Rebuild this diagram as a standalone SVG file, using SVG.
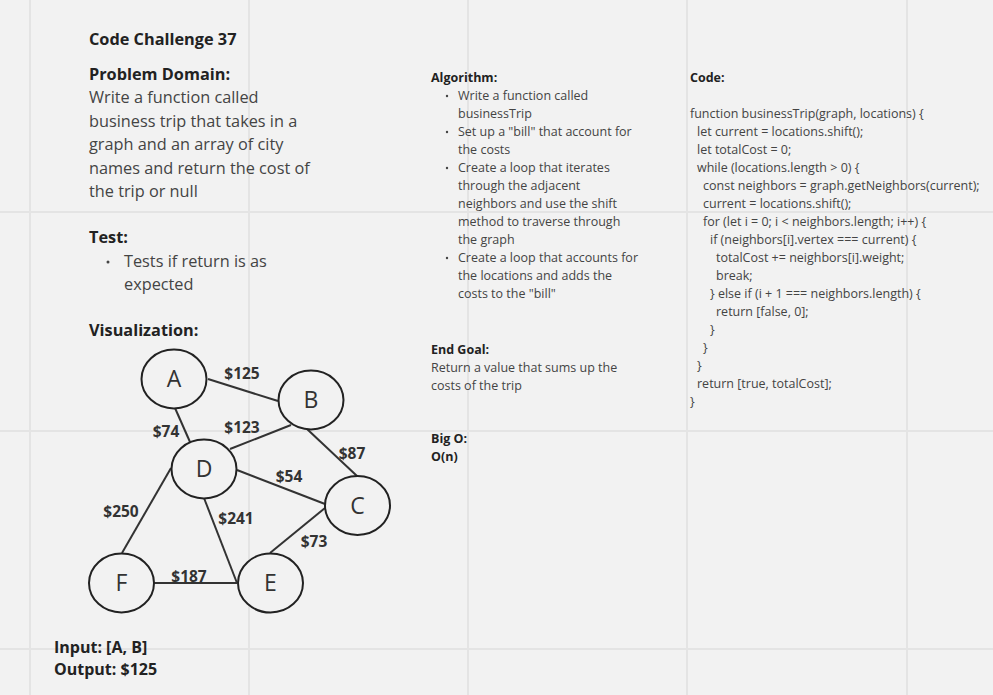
<svg xmlns="http://www.w3.org/2000/svg" width="993" height="695" viewBox="0 0 993 695">
<style>
.grid{stroke:#e4e4e4;stroke-width:2}
.h{font-family:"Open Sans","Noto Sans",sans-serif;font-weight:bold;fill:#222}
.b{font-family:"Open Sans","Noto Sans",sans-serif;fill:#444}
.s{font-family:"Open Sans","Noto Sans",sans-serif;fill:#444;font-size:12.5px}
.sh{font-family:"Open Sans","Noto Sans",sans-serif;fill:#222;font-size:12.5px;font-weight:bold}
.node ellipse{fill:#f2f2f2;stroke:#222;stroke-width:2}
.node text{font-family:"Open Sans","Noto Sans",sans-serif;font-size:23px;fill:#333;text-anchor:middle}
.edges line{stroke:#333;stroke-width:2}
.lbl{font-family:"Open Sans","Noto Sans",sans-serif;font-weight:bold;font-size:15.5px;fill:#333;text-anchor:middle}
</style>
<rect width="993" height="695" fill="#f2f2f2"/>
<g id="grid">
<line class="grid" x1="30" y1="0" x2="30" y2="695"/>
<line class="grid" x1="249" y1="0" x2="249" y2="695"/>
<line class="grid" x1="468" y1="0" x2="468" y2="695"/>
<line class="grid" x1="687" y1="0" x2="687" y2="695"/>
<line class="grid" x1="907" y1="0" x2="907" y2="695"/>
<line class="grid" x1="0" y1="212" x2="993" y2="212"/>
<line class="grid" x1="0" y1="431" x2="993" y2="431"/>
<line class="grid" x1="0" y1="649" x2="993" y2="649"/>
</g>
<g id="left-text">
<text class="h" x="89" y="45" font-size="16.3">Code Challenge 37</text>
<text class="h" x="89" y="80" font-size="16.3">Problem Domain:</text>
<text class="b" x="89" y="103" font-size="16.3">Write a function called</text>
<text class="b" x="89" y="126.5" font-size="16.3">business trip that takes in a</text>
<text class="b" x="89" y="150" font-size="16.3">graph and an array of city</text>
<text class="b" x="89" y="173.5" font-size="16.3">names and return the cost of</text>
<text class="b" x="89" y="197" font-size="16.3">the trip or null</text>
<text class="h" x="89" y="243" font-size="16.3">Test:</text>
<circle cx="108" cy="262" r="1.5" fill="#444"/>
<text class="b" x="124" y="267" font-size="16.3">Tests if return is as</text>
<text class="b" x="124" y="290" font-size="16.3">expected</text>
<text class="h" x="89" y="336" font-size="16.3">Visualization:</text>
<text class="h" x="54" y="653" font-size="16">Input: [A, B]</text>
<text class="h" x="54" y="675" font-size="16">Output: $125</text>
</g>
<g id="algorithm">
<text class="sh" x="431" y="82">Algorithm:</text>
<g fill="#444">
<circle cx="447" cy="96" r="1.2"/>
<circle cx="447" cy="132" r="1.2"/>
<circle cx="447" cy="168" r="1.2"/>
<circle cx="447" cy="258" r="1.2"/>
</g>
<text class="s" x="458" y="100">Write a function called</text>
<text class="s" x="458" y="118">businessTrip</text>
<text class="s" x="458" y="136">Set up a "bill" that account for</text>
<text class="s" x="458" y="154">the costs</text>
<text class="s" x="458" y="172">Create a loop that iterates</text>
<text class="s" x="458" y="190">through the adjacent</text>
<text class="s" x="458" y="208">neighbors and use the shift</text>
<text class="s" x="458" y="226">method to traverse through</text>
<text class="s" x="458" y="244">the graph</text>
<text class="s" x="458" y="262">Create a loop that accounts for</text>
<text class="s" x="458" y="280">the locations and adds the</text>
<text class="s" x="458" y="298">costs to the "bill"</text>
<text class="sh" x="431" y="354">End Goal:</text>
<text class="s" x="431" y="372">Return a value that sums up the</text>
<text class="s" x="431" y="390">costs of the trip</text>
<text class="sh" x="431" y="443">Big O:</text>
<text class="sh" x="431" y="461">O(n)</text>
</g>
<g id="code">
<text class="sh" x="690" y="82">Code:</text>
<text class="s" x="690" y="118">function businessTrip(graph, locations) {</text>
<text class="s" x="697" y="136">let current = locations.shift();</text>
<text class="s" x="697" y="154">let totalCost = 0;</text>
<text class="s" x="697" y="172">while (locations.length &gt; 0) {</text>
<text class="s" x="703" y="190">const neighbors = graph.getNeighbors(current);</text>
<text class="s" x="703" y="208">current = locations.shift();</text>
<text class="s" x="703" y="226">for (let i = 0; i &lt; neighbors.length; i++) {</text>
<text class="s" x="710" y="244">if (neighbors[i].vertex === current) {</text>
<text class="s" x="716" y="262">totalCost += neighbors[i].weight;</text>
<text class="s" x="716" y="280">break;</text>
<text class="s" x="710" y="298">} else if (i + 1 === neighbors.length) {</text>
<text class="s" x="716" y="316">return [false, 0];</text>
<text class="s" x="710" y="334">}</text>
<text class="s" x="703" y="352">}</text>
<text class="s" x="697" y="370">}</text>
<text class="s" x="697" y="388">return [true, totalCost];</text>
<text class="s" x="690" y="406">}</text>
</g>
<g id="connectors" class="edges">
<line x1="208" y1="379" x2="278" y2="401"/>
<line x1="175" y1="408" x2="190" y2="442"/>
<line x1="291" y1="425" x2="230" y2="449"/>
<line x1="307" y1="429" x2="357" y2="476"/>
<line x1="237" y1="470" x2="325" y2="504"/>
<line x1="171" y1="468" x2="122" y2="553"/>
<line x1="204" y1="498" x2="237" y2="583"/>
<line x1="325" y1="508" x2="270" y2="553"/>
<line x1="154" y1="583" x2="237" y2="583"/>
<text class="lbl" x="242" y="379">$125</text>
<text class="lbl" x="166" y="436.5">$74</text>
<text class="lbl" x="242" y="433">$123</text>
<text class="lbl" x="352" y="459">$87</text>
<text class="lbl" x="289" y="481.5">$54</text>
<text class="lbl" x="121" y="516.5">$250</text>
<text class="lbl" x="236" y="524">$241</text>
<text class="lbl" x="314" y="546.5">$73</text>
<text class="lbl" x="189" y="581.5">$187</text>
</g>
<g id="node-A" class="node"><ellipse cx="174" cy="379" rx="32.5" ry="29.5"/><text x="174" y="387">A</text></g>
<g id="node-B" class="node"><ellipse cx="311" cy="400" rx="32.5" ry="29.5"/><text x="311" y="408">B</text></g>
<g id="node-D" class="node"><ellipse cx="204" cy="469" rx="32.5" ry="29.5"/><text x="204" y="477">D</text></g>
<g id="node-C" class="node"><ellipse cx="357.5" cy="505.5" rx="32.5" ry="29.5"/><text x="357.5" y="513.5">C</text></g>
<g id="node-F" class="node"><ellipse cx="121.5" cy="583" rx="32.5" ry="29.5"/><text x="121.5" y="591">F</text></g>
<g id="node-E" class="node"><ellipse cx="270.5" cy="583" rx="32.5" ry="29.5"/><text x="270.5" y="591">E</text></g>
</svg>
